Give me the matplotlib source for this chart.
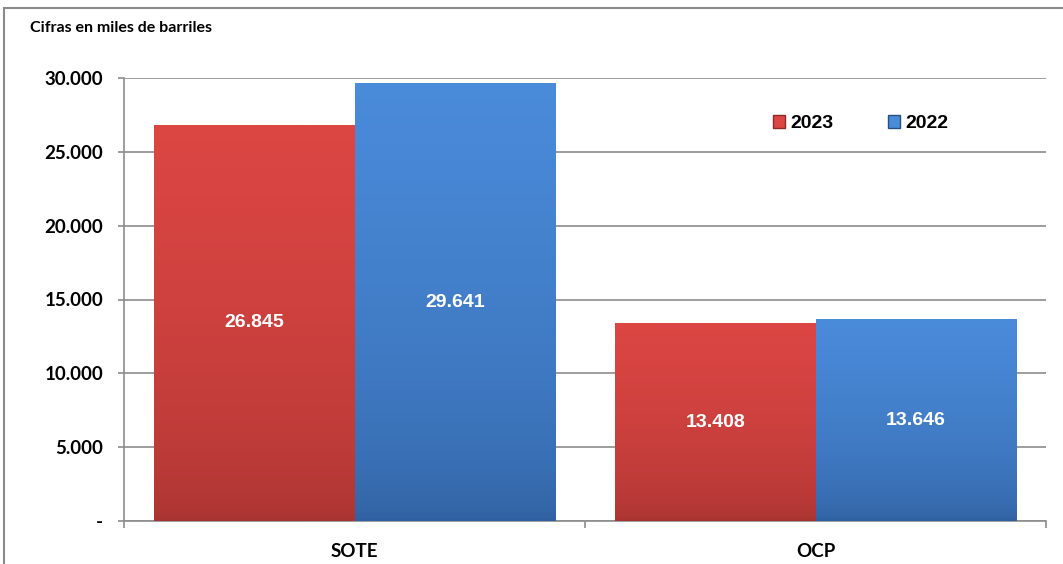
import numpy as np
import matplotlib.pyplot as plt
from matplotlib.colors import LinearSegmentedColormap
from matplotlib.patches import Patch, Rectangle

categories = ['SOTE', 'OCP']
series = ['2023', '2022']
values_2023 = [26845, 13408]
values_2022 = [29641, 13646]
yticks = [0, 5000, 10000, 15000, 20000, 25000, 30000]
ytick_labels = ['-', '5.000', '10.000', '15.000', '20.000', '25.000', '30.000']

red_top, red_bot = '#DC4643', '#A63331'
blue_top, blue_bot = '#4A8BDA', '#2F5F9E'


def fmt(v):
    return f'{v:,}'.replace(',', '.')


def gradient_bar(ax, bar, top, bot):
    x, y = bar.get_x(), bar.get_y()
    w, h = bar.get_width(), bar.get_height()
    cmap = LinearSegmentedColormap.from_list('g', [bot, top])
    grad = np.sqrt(np.linspace(0, 1, 256)).reshape(-1, 1)
    im = ax.imshow(grad, cmap=cmap, origin='lower', aspect='auto',
                   extent=[x, x + w, y, y + h], zorder=3)
    im.set_clip_path(bar)


fig = plt.figure(figsize=(10.63, 5.64), dpi=100)
ax = fig.add_axes([124 / 1063, 1 - 521 / 564, 922 / 1063, 443 / 564])

# outer border of the chart area
fig.patches.append(Rectangle((4 / 1063, -0.1), 1.2, 1.1 - 8 / 564, transform=fig.transFigure,
                             fill=False, edgecolor='#8a8a8a', linewidth=1.5))

x = np.arange(len(categories))
w = 0.435
b1 = ax.bar(x - w / 2, values_2023, w, color=red_top, edgecolor='#8e2a28', linewidth=0.6, zorder=2)
b2 = ax.bar(x + w / 2, values_2022, w, color=blue_top, edgecolor='#27507f', linewidth=0.6, zorder=2)

for bar in b1:
    gradient_bar(ax, bar, red_top, red_bot)
for bar in b2:
    gradient_bar(ax, bar, blue_top, blue_bot)

for bars, vals in [(b1, values_2023), (b2, values_2022)]:
    for bar, v in zip(bars, vals):
        ax.text(bar.get_x() + bar.get_width() / 2, v / 2, fmt(v), ha='center', va='center',
                color='white', fontsize=14, fontweight='bold', family='Liberation Sans', zorder=5)

ax.set_xlim(-0.5, 1.5)
ax.set_ylim(0, 30000)
ax.set_yticks(yticks)
ax.set_yticklabels(ytick_labels, fontsize=13.5, fontweight='bold', family='Lato')
ax.yaxis.grid(True, color='#8c8c8c', linewidth=1.2, zorder=0)
ax.set_axisbelow(True)

ax.set_xticks(x)
ax.set_xticklabels(categories, fontsize=13.5, fontweight='bold', family='Lato')
ax.tick_params(axis='x', length=0, pad=16)
ax.set_xticks([-0.5, 0.5, 1.5], minor=True)
ax.tick_params(axis='x', which='minor', length=5, color='#8c8c8c', width=1.2)
ax.tick_params(axis='y', length=4.5, color='#8c8c8c', width=1.2, pad=10.5)

for s in ['top', 'right']:
    ax.spines[s].set_visible(False)
for s in ['left', 'bottom']:
    ax.spines[s].set_color('#8c8c8c')
    ax.spines[s].set_linewidth(1.2)

handles = [Patch(facecolor=red_top, edgecolor='#8e2a28'), Patch(facecolor=blue_top, edgecolor='#27507f')]
ax.legend(handles, series, loc='upper left', bbox_to_anchor=(0.685, 0.955), ncol=2, frameon=False,
          prop={'family': 'Liberation Sans', 'weight': 'bold', 'size': 14},
          handlelength=0.6, handleheight=0.6, handletextpad=0.3, columnspacing=2.8)

fig.text(30 / 1063, 1 - 28 / 564, 'Cifras en miles de barriles', fontsize=11.5, fontweight='bold',
         family='Lato', va='center', ha='left')

fig.savefig('out.png', dpi=100)
